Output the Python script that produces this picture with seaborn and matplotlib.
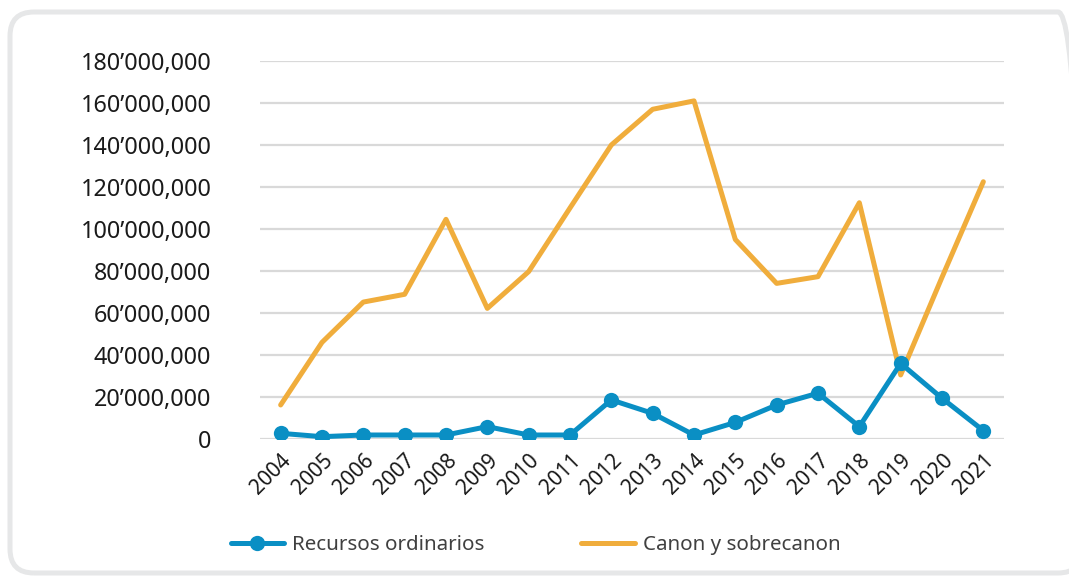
import numpy as np
import pandas as pd
import seaborn as sns
import matplotlib
matplotlib.use("Agg")
import matplotlib.pyplot as plt
from matplotlib.patches import FancyBboxPatch
from matplotlib.transforms import IdentityTransform
from matplotlib.ticker import FuncFormatter, MultipleLocator

years = list(range(2004, 2022))
recursos_ordinarios = [2.7e6, 1.1e6, 1.9e6, 1.9e6, 1.9e6, 5.9e6, 1.9e6, 1.9e6, 18.6e6,
                       12.2e6, 1.9e6, 7.9e6, 16.2e6, 21.8e6, 5.9e6, 36.0e6, 19.4e6, 4.0e6]
canon_sobrecanon = [16.2e6, 46.0e6, 65.2e6, 68.9e6, 104.6e6, 62.2e6, 79.7e6, 110.0e6, 140.0e6,
                    157.0e6, 161.0e6, 95.0e6, 74.1e6, 77.3e6, 112.5e6, 30.5e6, 77.0e6, 122.5e6]
series_names = ["Recursos ordinarios", "Canon y sobrecanon"]
colors = {"Recursos ordinarios": "#0a8fc4", "Canon y sobrecanon": "#f0ad3c"}

df = pd.DataFrame({
    "year": years * 2,
    "value": recursos_ordinarios + canon_sobrecanon,
    "serie": [series_names[0]] * len(years) + [series_names[1]] * len(years),
})

sns.set_theme(style="white")
plt.rcParams["font.family"] = ["Noto Sans", "DejaVu Sans"]

fig = plt.figure(figsize=(10.69, 5.78), dpi=100)
ax = fig.add_axes([0.2432, 0.2405, 0.696, 0.654])

sns.lineplot(data=df[df.serie == series_names[1]], x="year", y="value",
             color=colors[series_names[1]], linewidth=3.6, ax=ax,
             label=series_names[1], zorder=2)
sns.lineplot(data=df[df.serie == series_names[0]], x="year", y="value",
             color=colors[series_names[0]], linewidth=3.6, marker="o",
             markersize=11, markeredgewidth=0, ax=ax,
             label=series_names[0], zorder=3)

ax.set_xlim(years[0] - 0.5, years[-1] + 0.5)
ax.set_ylim(0, 180e6)
ax.yaxis.set_major_locator(MultipleLocator(20e6))


def fmt(v, _):
    v = int(round(v))
    if v == 0:
        return "0"
    return f"{v // 1_000_000}\u2019{(v // 1000) % 1000:03d},{v % 1000:03d}"


ax.yaxis.set_major_formatter(FuncFormatter(fmt))
ax.set_xticks(years)
ax.set_xticklabels([str(y) for y in years], rotation=45, ha="right",
                   rotation_mode="anchor")
ax.tick_params(axis="y", length=0, pad=35, labelsize=16.8, labelcolor="#1a1a1a")
ax.tick_params(axis="x", length=0, pad=8, labelsize=15, labelcolor="#1a1a1a")
ax.grid(axis="y", color="#d9d9d9", linewidth=1.6)
ax.grid(axis="x", visible=False)
ax.set_axisbelow(True)
for s in ax.spines.values():
    s.set_visible(False)
ax.set_xlabel("")
ax.set_ylabel("")

handles, labels = ax.get_legend_handles_labels()
order = [labels.index(n) for n in series_names]
ax.legend_.remove()
fig.legend([handles[i] for i in order], [labels[i] for i in order],
           loc="center", bbox_to_anchor=(0.501, 0.057), ncol=2, frameon=False,
           fontsize=14.8, handlelength=2.6, columnspacing=4.7, handletextpad=0.4,
           labelcolor="#404040")

# rounded card border, running off the right edge of the canvas
frame = FancyBboxPatch((10, 5), 1072, 561, boxstyle="round,pad=0,rounding_size=24",
                       transform=IdentityTransform(), facecolor="none",
                       edgecolor="#e6e7e8", linewidth=3.6, zorder=0)
fig.patches.append(frame)

fig.savefig("out.png", dpi=100)
